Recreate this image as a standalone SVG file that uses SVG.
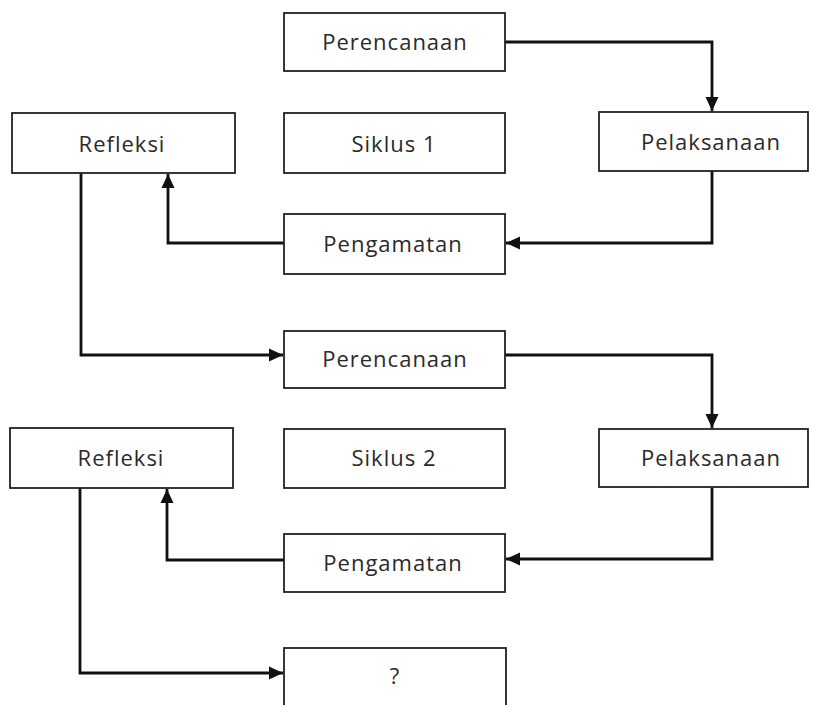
<svg xmlns="http://www.w3.org/2000/svg" width="813" height="705" viewBox="0 0 813 705">
<style>
.box{fill:#fff;stroke:#222;stroke-width:1.8}
.lbl{font-family:"Open Sans","Liberation Sans",sans-serif;font-size:22px;letter-spacing:1px;fill:#2a2a2a;text-anchor:middle}
.con{fill:none;stroke:#111;stroke-width:2.8}
</style>
<defs>
<marker id="ah" markerUnits="userSpaceOnUse" markerWidth="15" markerHeight="15" refX="14" refY="7.5" orient="auto">
<path d="M0,1 L14,7.5 L0,14 Z" fill="#111"/>
</marker>
</defs>
<rect width="813" height="705" fill="#fff"/>
<g id="connectors">
<path class="con" d="M505,42 H712 V111" marker-end="url(#ah)"/>
<path class="con" d="M712,171 V243 H506" marker-end="url(#ah)"/>
<path class="con" d="M284,243 H168 V174" marker-end="url(#ah)"/>
<path class="con" d="M81,173 V355 H283" marker-end="url(#ah)"/>
<path class="con" d="M505,355 H712 V428" marker-end="url(#ah)"/>
<path class="con" d="M712,488 V559 H506" marker-end="url(#ah)"/>
<path class="con" d="M284,560 H167 V489" marker-end="url(#ah)"/>
<path class="con" d="M80,488 V673 H283" marker-end="url(#ah)"/>
</g>
<g id="perencanaan1"><rect class="box" x="284" y="13" width="221" height="58"/><text class="lbl" x="395" y="50">Perencanaan</text></g>
<g id="refleksi1"><rect class="box" x="12" y="113" width="223" height="60"/><text class="lbl" x="122" y="152">Refleksi</text></g>
<g id="siklus1"><rect class="box" x="284" y="113" width="221" height="60"/><text class="lbl" x="394" y="152">Siklus 1</text></g>
<g id="pelaksanaan1"><rect class="box" x="599" y="112" width="209" height="59"/><text class="lbl" x="711" y="150">Pelaksanaan</text></g>
<g id="pengamatan1"><rect class="box" x="284" y="214" width="221" height="60"/><text class="lbl" x="393" y="252">Pengamatan</text></g>
<g id="perencanaan2"><rect class="box" x="284" y="331" width="221" height="57"/><text class="lbl" x="395" y="367">Perencanaan</text></g>
<g id="refleksi2"><rect class="box" x="10" y="428" width="223" height="60"/><text class="lbl" x="121" y="466">Refleksi</text></g>
<g id="siklus2"><rect class="box" x="284" y="429" width="221" height="59"/><text class="lbl" x="394" y="466">Siklus 2</text></g>
<g id="pelaksanaan2"><rect class="box" x="599" y="429" width="209" height="58"/><text class="lbl" x="711" y="466">Pelaksanaan</text></g>
<g id="pengamatan2"><rect class="box" x="284" y="534" width="221" height="58"/><text class="lbl" x="393" y="571">Pengamatan</text></g>
<g id="question"><rect class="box" x="284" y="648" width="222" height="80"/><text class="lbl" x="395" y="684">?</text></g>
</svg>
